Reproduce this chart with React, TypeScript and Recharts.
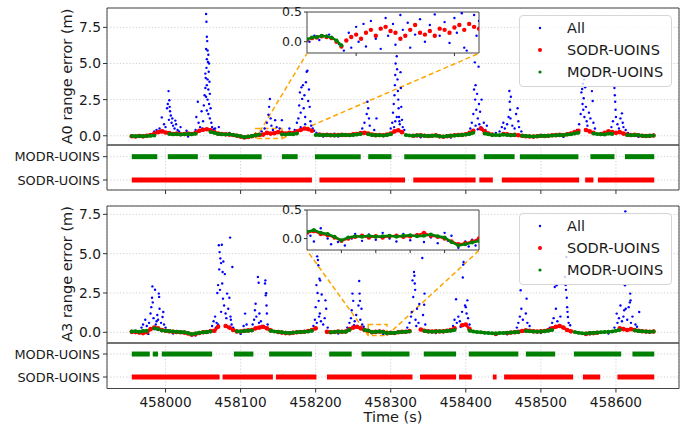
import React from 'react';
import {
  ScatterChart,
  Scatter,
  XAxis,
  YAxis,
  CartesianGrid,
  ReferenceArea,
  ReferenceLine,
  Legend,
} from 'recharts';

// ---- layout ----
const PLOT_L = 107;
const PLOT_W = 572;
const PAD = 12;
const X_MIN = 457922;
const X_MAX = 458684;
const FONT = '"DejaVu Sans", sans-serif';

const BLUE = '#0000ff';
const RED = '#ff0000';
const GREEN = '#008000';
const ORANGE = '#ffa500';
const FRAME = '#444';

// ---- data ----
const X_TICKS = [458000, 458100, 458200, 458300, 458400, 458500, 458600];
const Y_TICKS = [0, 2.5, 5, 7.5];
const INSET_Y_TICKS = [0, 0.5];
const STRIP_LABELS = ['SODR-UOINS', 'MODR-UOINS'];
const SERIES = [
  { name: 'All', color: BLUE, r: 1.2 },
  { name: 'SODR-UOINS', color: RED, r: 2 },
  { name: 'MODR-UOINS', color: GREEN, r: 1.6 },
];

// baseline samples, every 5 s from 457955
const BASE_START = 457955;
const BASE_STEP = 5;

const a0Modr = [
  -0.02, -0.03, -0.01, -0.03, -0.02, 0.0, 0.02, 0.05, 0.08, 0.1,
  0.12, 0.1, 0.11, 0.08, 0.1, 0.12, 0.1, 0.14, 0.22, 0.28,
  0.3, 0.26, 0.2, 0.12, 0.1, 0.08, 0.1, 0.06, 0.02, -0.04,
  -0.1, -0.06, -0.02, 0.04, 0.08, -0.06, 0.05, 0.08, 0.1, 0.12,
  0.1, 0.08, 0.12, 0.1, 0.15, 0.2, 0.25, 0.2, 0.12, 0.06,
  0.05, 0.03, 0.06, 0.04, 0.02, 0.04, 0.06, 0.05, 0.03, 0.05,
  0.08, 0.12, 0.15, 0.1, 0.05, 0.03, 0.04, 0.02, 0.05, 0.1,
  0.2, 0.25, 0.15, 0.05, 0.02, 0.0, 0.03, 0.02, 0.0, -0.02,
  0.0, 0.02, -0.03, -0.06, -0.02, 0.0, 0.02, 0.04, 0.05, 0.08,
  0.12, 0.2, 0.28, 0.3, 0.15, 0.1, 0.05, 0.06, 0.04, 0.08,
  0.06, 0.03, 0.05, 0.02, 0.0, -0.02, -0.04, -0.05, -0.03, 0.0,
  -0.02, 0.0, 0.02, 0.03, 0.05, 0.04, 0.08, 0.1, 0.15, 0.2,
  0.25, 0.3, 0.18, 0.15, 0.12, 0.1, 0.08, 0.15, 0.12, 0.1,
  0.12, 0.08, 0.05, 0.04, 0.06, 0.03, 0.0, -0.02, 0.0, 0.02,
];

const a0Sodr = [
  -0.03, -0.05, -0.02, -0.04, 0.0, 0.05, 0.15, 0.25, 0.3, 0.22,
  0.18, 0.12, 0.15, 0.1, 0.12, 0.15, 0.12, 0.2, 0.35, 0.42,
  0.45, 0.38, 0.25, 0.15, 0.12, 0.1, 0.08, 0.05, 0.0, -0.06,
  -0.12, -0.08, -0.03, 0.04, 0.06, 0.08, 0.2, 0.15, 0.18, 0.25,
  0.2, 0.15, 0.2, 0.18, 0.3, 0.4, 0.5, 0.45, 0.35, 0.15,
  0.08, 0.05, 0.06, 0.04, 0.03, 0.05, 0.06, 0.05, 0.05, 0.1,
  0.12, 0.18, 0.2, 0.15, 0.08, 0.04, 0.05, 0.03, 0.08, 0.15,
  0.3, 0.38, 0.25, 0.1, 0.03, 0.0, 0.02, 0.03, 0.0, -0.02,
  0.0, 0.03, -0.04, -0.07, -0.03, 0.0, 0.03, 0.05, 0.06, 0.1,
  0.2, 0.35, 0.45, 0.5, 0.3, 0.15, 0.08, 0.1, 0.08, 0.12,
  0.1, 0.05, 0.06, 0.03, 0.0, -0.03, -0.05, -0.06, -0.03, 0.0,
  -0.02, 0.0, 0.03, 0.04, 0.06, 0.05, 0.1, 0.15, 0.25, 0.35,
  0.45, 0.4, 0.3, 0.2, 0.15, 0.12, 0.2, 0.3, 0.25, 0.2,
  0.25, 0.15, 0.08, 0.05, 0.06, 0.03, 0.0, -0.02, 0.0, 0.02,
];

const a3Modr = [
  0.05, 0.06, 0.04, 0.08, 0.1, 0.15, 0.25, 0.2, 0.12, 0.1,
  0.08, 0.05, 0.03, 0.02, 0.0, -0.05, -0.12, -0.08, -0.03, 0.0,
  0.02, 0.05, 0.1, 0.2, 0.25, 0.2, 0.12, 0.1, 0.06, 0.05,
  0.08, 0.1, 0.12, 0.2, 0.25, 0.3, 0.2, 0.1, 0.05, 0.03,
  0.0, -0.03, -0.05, -0.02, 0.0, 0.02, 0.03, 0.05, 0.1, 0.15,
  0.12, 0.05, 0.03, 0.0, 0.02, 0.05, 0.03, 0.04, 0.15, 0.2,
  0.25, 0.2, 0.15, 0.12, 0.0, 0.03, 0.05, 0.02, -0.06, -0.03,
  -0.05, 0.0, 0.02, 0.03, 0.05, 0.1, 0.15, 0.12, 0.08, 0.05,
  0.04, 0.05, 0.06, 0.05, 0.08, 0.1, 0.15, 0.2, 0.25, 0.3,
  0.1, 0.05, 0.02, 0.0, -0.03, -0.05, -0.06, -0.08, -0.05, -0.04,
  -0.03, -0.02, 0.0, 0.02, 0.05, 0.08, 0.06, 0.05, 0.04, 0.05,
  0.06, 0.1, 0.15, 0.2, 0.25, 0.2, 0.1, 0.05, 0.02, -0.03,
  -0.06, -0.08, -0.05, -0.04, -0.02, 0.0, 0.02, 0.03, 0.05, 0.1,
  0.15, 0.12, 0.1, 0.15, 0.12, 0.08, 0.06, 0.05, 0.04, 0.05,
];

const a3Sodr = [
  0.03, 0.02, -0.02, -0.05, 0.0, 0.2, 0.3, 0.25, 0.15, 0.1,
  0.06, 0.04, 0.02, 0.0, -0.02, -0.08, -0.15, -0.1, -0.04, 0.0,
  0.02, 0.08, 0.1, 0.35, 0.45, 0.4, 0.3, 0.15, 0.05, 0.05,
  0.1, 0.12, 0.15, 0.25, 0.3, 0.35, 0.25, 0.12, 0.05, 0.02,
  -0.02, -0.05, -0.06, -0.03, 0.0, 0.02, 0.04, 0.08, 0.15, 0.25,
  0.2, 0.08, 0.03, 0.0, 0.02, 0.05, 0.04, 0.05, 0.2, 0.3,
  0.35, 0.25, 0.15, 0.1, 0.01, 0.03, 0.05, 0.03, -0.05, -0.03,
  -0.04, 0.0, 0.03, 0.04, 0.08, 0.15, 0.2, 0.18, 0.1, 0.06,
  0.05, 0.06, 0.05, 0.06, 0.1, 0.15, 0.25, 0.35, 0.45, 0.5,
  0.2, 0.06, 0.02, 0.0, -0.04, -0.06, -0.07, -0.1, -0.06, -0.05,
  -0.04, -0.02, 0.0, 0.03, 0.08, 0.12, 0.1, 0.06, 0.05, 0.06,
  0.08, 0.15, 0.25, 0.35, 0.4, 0.3, 0.15, 0.06, 0.02, -0.04,
  -0.08, -0.1, -0.06, -0.05, -0.03, 0.0, 0.03, 0.05, 0.1, 0.2,
  0.25, 0.2, 0.15, 0.2, 0.15, 0.1, 0.07, 0.05, 0.04, 0.05,
];

// availability windows [start, end] (s)
const a0ModrSegs = [
  [457955, 457989], [458003, 458043], [458058, 458128], [458155, 458176],
  [458199, 458260], [458270, 458301], [458318, 458413], [458424, 458465],
  [458472, 458550], [458566, 458598], [458612, 458651],
];
const a0SodrSegs = [
  [457955, 458195], [458205, 458319], [458330, 458413], [458418, 458436],
  [458448, 458551], [458559, 458570], [458576, 458651],
];
const a3ModrSegs = [
  [457955, 457979], [457983, 457990], [457995, 458062], [458091, 458117],
  [458138, 458195], [458218, 458248], [458261, 458325], [458344, 458387],
  [458404, 458470], [458480, 458519], [458544, 458607], [458622, 458651],
];
const a3SodrSegs = [
  [457955, 458072], [458076, 458143], [458147, 458201], [458215, 458329],
  [458339, 458387], [458391, 458408], [458436, 458441], [458451, 458543],
  [458556, 458579], [458602, 458651],
];

// "All" solutions away from the baseline [time, error]
const a0All = [
  [457965, -0.08], [457975, 0.05], [457985, 0.3], [457988, 0.4], [457992, 0.5], [457995, 1.27],
  [457997, 0.35], [457998, 0.8], [458000, 0.6], [458002, 1.9], [458003, 2.2], [458004, 3.09],
  [458004.5, 1.1], [458005, 2.46], [458005.5, 2.0], [458006, 1.7], [458007, 1.4], [458008, 0.9],
  [458009, 1.2], [458010, 0.7], [458012, 0.5], [458013, 1.05], [458014, 0.8], [458016, 0.4],
  [458018, 0.3], [458020, 0.6], [458028, 0.35], [458030, -0.05],
  [458040, 0.4], [458041, 1.3], [458043, 2.35], [458044, 0.9], [458045, 0.35], [458046, 0.6],
  [458048, 1.7], [458049, 0.5], [458050, 1.0], [458051, 2.1], [458052, 2.8], [458053, 3.3],
  [458053.5, 4.0], [458054, 8.42], [458054.5, 7.89], [458055, 6.85], [458055.5, 6.55], [458054, 6.0],
  [458056, 5.9], [458057, 5.6], [458055, 5.3], [458056.5, 5.1], [458058, 5.0], [458054.5, 4.7],
  [458057.5, 4.43], [458053, 4.3], [458056, 3.9], [458058.5, 3.74], [458055, 3.5], [458057, 3.2],
  [458059, 2.9], [458054, 2.7], [458056, 2.5], [458058, 2.2], [458060, 1.9], [458055, 1.75],
  [458057, 1.5], [458059, 1.2], [458061, 0.9], [458062, 0.6], [458064, 0.45], [458066, 0.5],
  [458071, 0.6], [458085, 0.2], [458105, -0.15],
  [458128, 0.3], [458132, 0.5], [458135, 0.9], [458136, 0.2], [458137, 1.45], [458138, 2.0],
  [458139, 2.54], [458140, 1.2], [458141, 0.7], [458143, 0.4], [458146, 1.08], [458148, 0.6],
  [458152, 0.5], [458155, 1.08], [458165, 0.5],
  [458172, 0.4], [458175, 0.9], [458177, 1.2], [458178, 2.1], [458179, 3.0], [458180, 1.6],
  [458180, 0.6], [458181, 3.35], [458182, 2.55], [458183, 3.5], [458184, 1.9], [458185, 2.8],
  [458186, 1.3], [458186, 0.8], [458187, 3.7], [458188, 4.43], [458189, 4.5], [458190, 2.4],
  [458191, 3.2], [458192, 2.0], [458193, 1.0], [458194, 0.7], [458196, 0.5], [458198, 0.35],
  [458201, 0.2], [458210, -0.05], [458225, 0.15], [458230, -0.05], [458240, 0.1],
  [458262, 0.5], [458265, 0.9], [458268, 1.5], [458269, 2.35], [458270, 1.9], [458271, 1.2],
  [458272, 0.7], [458278, 0.4], [458281, 1.2],
  [458300, 0.5], [458302, 0.9], [458303, 1.6], [458304, 2.2], [458304.5, 0.6], [458305, 2.8],
  [458305.5, 3.5], [458306, 4.2], [458306, 1.0], [458306.5, 5.0], [458307, 5.8], [458307.5, 6.5],
  [458308, 5.5], [458308, 1.3], [458308.5, 4.6], [458309, 3.9], [458309.5, 3.1], [458310, 2.5],
  [458310.5, 1.9], [458311, 1.3], [458311.5, 1.0], [458312, 0.8], [458313, 4.4], [458313.5, 3.3],
  [458314, 2.0], [458315, 1.1], [458316, 0.6], [458318, 0.4], [458340, -0.1], [458380, -0.12],
  [458406, 0.5], [458408, 0.9], [458410, 1.5], [458411, 3.2], [458412, 5.08], [458412.5, 2.5],
  [458413, 3.5], [458413, 0.7], [458414, 1.8], [458415, 2.9], [458416, 1.2], [458416, 0.45],
  [458417, 4.78], [458417.5, 2.2], [458418, 0.8], [458419, 1.66], [458420, 0.6], [458421, 2.5],
  [458422, 0.5], [458424, 0.9], [458426, 0.4], [458428, 0.7], [458440, 0.2],
  [458445, 0.3], [458448, 0.6], [458450, 0.9], [458452, 0.5], [458455, 0.8], [458457, 1.3],
  [458458, 3.1], [458458.5, 2.35], [458459, 1.8], [458459.5, 1.2], [458460, 2.7], [458462, 0.7],
  [458465, 0.5], [458467, 1.5], [458469, 1.9], [458470, 1.0], [458471, 0.6], [458474, 0.3],
  [458490, -0.1], [458530, -0.08],
  [458548, 0.4], [458551, 0.8], [458553, 1.5], [458554, 3.0], [458555, 3.23], [458555.5, 2.2],
  [458556, 3.6], [458556.5, 1.8], [458557, 2.6], [458557.5, 3.9], [458558, 1.3], [458558.5, 4.2],
  [458559, 3.35], [458560, 2.0], [458561, 1.0], [458562, 0.7], [458564, 1.6], [458566, 1.2],
  [458568, 3.09], [458569, 2.4], [458570, 0.9], [458572, 0.5], [458585, 0.1],
  [458590, 0.3], [458594, 0.6], [458596, 1.0], [458598, 3.3], [458598.5, 2.8], [458599, 2.35],
  [458599.5, 1.8], [458600, 1.3], [458602, 0.8], [458604, 0.5], [458606, 1.2], [458608, 1.55],
  [458609, 0.9], [458610, 0.6], [458613, 0.4], [458616, 0.2], [458630, -0.08], [458645, -0.05],
];

const a3All = [
  [457960, -0.05], [457968, 0.3], [457970, 0.5], [457973, 0.8], [457975, 0.4], [457977, -0.1],
  [457978, 0.6], [457980, 1.2], [457981, 1.6], [457982, 2.2], [457982.5, 2.92], [457983, 1.9],
  [457984, 0.9], [457985, 0.2], [457986, 2.71], [457987, 0.5], [457988, 0.7], [457989, 1.1],
  [457990, 0.8], [457991, 2.46], [457991.5, 2.25], [457992, 1.5], [457994, 0.6], [457996, 0.97],
  [457997, 1.29], [457998, 0.5], [458000, 0.3], [458010, -0.08], [458040, -0.2],
  [458062, 0.4], [458064, 0.7], [458066, 1.0], [458067, 0.3], [458068, 0.6], [458069, 2.5],
  [458070, 3.0], [458070, 0.5], [458071, 5.53], [458071.5, 4.0], [458072, 5.1], [458072.5, 2.7],
  [458073, 4.7], [458074, 4.4], [458074, 1.3], [458075, 5.57], [458075.5, 3.1], [458076, 3.83],
  [458076.5, 2.14], [458077, 4.5], [458078, 1.7], [458079, 3.7], [458080, 1.2], [458081, 0.9],
  [458082, 2.46], [458083.5, 1.5], [458085, 2.2], [458086, 6.02], [458086.5, 1.0], [458087, 0.8],
  [458088, 0.5], [458089, 4.15], [458090, 0.3], [458100, -0.1],
  [458104, 0.4], [458106, 1.19], [458108, 0.5],
  [458116, 0.5], [458118, 0.8], [458119, 1.4], [458120, 1.82], [458121, 1.0], [458123, 3.52],
  [458124, 3.15], [458124.5, 0.6], [458125, 1.2], [458127, 0.7], [458128, 0.4], [458132.5, 3.1],
  [458133, 3.3], [458133.5, 2.35], [458134, 2.48], [458134.5, 1.7], [458135, 1.2], [458136, 0.5],
  [458160, -0.1],
  [458197, 0.4], [458199, 0.8], [458200, 1.6], [458201, 3.0], [458201.5, 0.6], [458202, 4.83],
  [458202.5, 2.5], [458203, 4.6], [458203.5, 4.26], [458204, 2.0], [458204.5, 1.0], [458205, 3.41],
  [458205.5, 1.2], [458206, 3.3], [458207, 0.7], [458208, 2.4], [458210, 0.5], [458212, 0.9],
  [458213, 2.03], [458214, 1.5], [458216, 0.3], [458230, -0.08],
  [458242, 0.3], [458245, 0.6], [458247, 0.9], [458248, 1.4], [458249, 2.46], [458250, 2.0],
  [458251, 0.45], [458252, 0.7], [458254, 1.1], [458257, 1.7], [458258, 3.26], [458258.5, 2.46],
  [458259, 2.0], [458259.5, 0.8], [458261, 1.5], [458262, 0.5], [458264, 0.35], [458290, -0.1],
  [458322, 0.3], [458325, 0.6], [458327, 1.0], [458328, 1.29], [458329, 3.3], [458330, 2.24],
  [458331, 3.83], [458331.5, 3.6], [458332, 3.1], [458332.5, 2.7], [458333, 0.8], [458334, 0.4],
  [458335, 1.5], [458337, 0.6], [458338, 1.8], [458342, 4.72], [458343, 1.1], [458344.5, 1.75],
  [458345, 2.46], [458346, 0.5], [458360, -0.05],
  [458383, 0.4], [458385, 0.8], [458387, 2.1], [458388, 0.6], [458390, 1.0], [458392, 0.7],
  [458393, 0.35], [458395, 1.3], [458396, 3.48], [458396.5, 4.3], [458397, 4.47], [458399, 1.7],
  [458400, 1.6], [458401, 1.2], [458402, 2.03], [458403, 0.9], [458405, 0.5],
  [458440, -0.15], [458455, -0.12],
  [458468, 0.3], [458470, 0.6], [458472, 1.0], [458473, 2.67], [458474, 1.5], [458476, 0.8],
  [458481, 2.14], [458480, 1.2], [458482, 0.6], [458485, 0.4], [458500, -0.05],
  [458512, 0.3], [458515, 0.6], [458517, 0.9], [458518.5, 2.88], [458520, 1.5], [458521, 2.99],
  [458522, 0.7], [458525, 0.4], [458526, 1.0], [458532, 3.52], [458533, 3.0], [458533.5, 2.7],
  [458534, 4.79], [458534.5, 2.2], [458535, 1.6], [458535.5, 1.3], [458536, 0.97], [458537, 0.6],
  [458539, 0.45], [458565, -0.12], [458590, -0.08],
  [458598, 0.3], [458601, 1.19], [458602, 0.6], [458604, 0.9], [458606, 1.7], [458608, 0.7],
  [458610, 1.0], [458611, 1.4], [458612, 2.99], [458612.5, 7.69], [458613, 1.5], [458615, 0.8],
  [458618.5, 1.9], [458619, 2.46], [458619.5, 2.03], [458617, 1.6], [458620, 0.6], [458622, 1.0],
  [458626, 0.5], [458628, 0.35], [458631, 1.29], [458640, 0.0],
];

// zoomed windows, 1 s samples
const a0InsetRange = [458120, 458155];
const a0InsetTicks = [458130, 458150];
const a0InsetModr = [0.04, 0.07, 0.08, 0.1, 0.09, 0.07, 0.02, -0.06];
const a0InsetSodr = [
  0.03, 0.06, 0.07, 0.09, 0.08, 0.06, 0.0, -0.08, 0.02, 0.08,
  0.12, 0.05, 0.15, 0.2, 0.1, 0.22, 0.25, 0.18, 0.15, 0.05,
  0.1, 0.2, 0.28, 0.15, 0.12, 0.18, 0.1, 0.22, 0.2, 0.15,
  0.24, 0.28, 0.2, 0.3, 0.25, 0.22,
];
const a0InsetAll = [
  [458120.5, 0.0], [458121.5, 0.1], [458122.5, 0.03], [458124.5, 0.12], [458126.5, -0.04],
  [458127.5, -0.15], [458128.5, 0.15], [458129, -0.1], [458130, 0.25], [458130.5, 0.0],
  [458131.5, 0.3], [458132, -0.08], [458133, 0.35], [458134, 0.05], [458135, -0.12],
  [458136, 0.4], [458136.5, 0.1], [458137.5, 0.3], [458138, -0.05], [458139, 0.45],
  [458139.5, 0.2], [458140.5, 0.32], [458141, -0.1], [458142, 0.12], [458143, 0.38],
  [458144, 0.0], [458145, 0.28], [458146, 0.46], [458147, 0.1], [458148, 0.33],
  [458149, -0.02], [458150, 0.4], [458150.5, 0.15], [458151.5, 0.48], [458152, -0.1],
  [458152.5, -0.15], [458153, 0.3], [458154, 0.45], [458154.5, 0.1], [458155, 0.35],
];

const a3InsetRange = [458270, 458295];
const a3InsetTicks = [458275, 458280, 458285, 458290];
const a3InsetModr = [
  0.12, 0.15, 0.1, 0.08, 0.03, -0.03, 0.02, 0.04, 0.03, 0.05,
  0.03, 0.04, 0.05, 0.03, 0.05, 0.06, 0.04, 0.05, 0.07, 0.04,
  0.02, -0.06, -0.12, -0.1, -0.07, -0.04,
];
const a3InsetSodr = [
  0.1, 0.13, 0.08, 0.06, 0.02, -0.04, 0.0, 0.03, 0.05, 0.02,
  0.04, 0.02, 0.04, 0.05, 0.03, 0.04, 0.06, 0.1, 0.05, 0.03,
  0.0, -0.05, -0.1, -0.08, -0.05, 0.0,
];
const a3InsetAll = [
  [458270.5, 0.05], [458271, -0.05], [458272, 0.18], [458273, 0.0], [458273.5, -0.1],
  [458274.5, -0.06], [458275.5, -0.12], [458276.5, 0.0], [458277, 0.08], [458278, -0.04],
  [458279, 0.07], [458280, -0.02], [458281, 0.1], [458282, 0.0], [458283, -0.05],
  [458284, 0.08], [458285, -0.03], [458286, 0.07], [458287, -0.06], [458288, 0.02],
  [458289, -0.08], [458290, 0.1], [458290.5, -0.04], [458291, 0.05], [458292, -0.16],
  [458293, -0.05], [458293.5, -0.14], [458294, -0.02], [458294.5, -0.12], [458295, 0.0],
];

// ---- helpers ----
const sampled = (vals, start, step) => vals.map((v, i) => ({ t: start + i * step, v }));
// split a sampled series into its availability windows
const bySegment = (vals, segs) =>
  segs
    .map(([a, b]) => sampled(vals, BASE_START, BASE_STEP).filter((p) => p.t >= a && p.t <= b))
    .filter((d) => d.length > 0);
const pairs = (list) => list.map(([t, v]) => ({ t, v }));

const dot = (r, color) => (p) => <circle cx={p.cx} cy={p.cy} r={r} fill={color} />;

const gridProps = { stroke: '#c4c4c4', strokeDasharray: '1.2 2', strokeWidth: 0.8 };

const LegendBox = () => (
  <div
    style={{
      width: 153,
      height: 72,
      boxSizing: 'border-box',
      border: '1px solid #d6d6d6',
      borderRadius: 4,
      background: 'rgba(255,255,255,0.8)',
      fontFamily: FONT,
      fontSize: 14.5,
      color: '#1a1a1a',
      paddingTop: 1,
    }}
  >
    {SERIES.map((s) => (
      <div key={s.name} style={{ display: 'flex', alignItems: 'center', height: 22 }}>
        <svg width={47} height={22} style={{ flex: 'none' }}>
          <circle cx={20} cy={11} r={s.r} fill={s.color} />
        </svg>
        <span>{s.name}</span>
      </div>
    ))}
  </div>
);

function MainPanel({ top, height, yDomain, all, sodr, modr, sodrSegs, modrSegs, box, inset }) {
  const [y0, y1] = yDomain;
  const yw = 50;
  const left = PLOT_L - yw - PAD;
  const tAt = (x) => X_MIN + ((x - PLOT_L) / PLOT_W) * (X_MAX - X_MIN);
  const vAt = (y) => y1 - ((y - top) / height) * (y1 - y0);
  const iL = tAt(inset.left);
  const iR = tAt(inset.left + inset.width);
  const iB = vAt(inset.top + inset.height);
  const dash = { stroke: ORANGE, strokeWidth: 1.5, strokeDasharray: '5 3', ifOverflow: 'visible' };
  return (
    <div style={{ position: 'absolute', left, top: top - PAD }}>
      <ScatterChart
        width={yw + PLOT_W + 2 * PAD}
        height={height + 2 * PAD}
        margin={{ top: PAD, right: PAD, bottom: PAD, left: PAD }}
      >
        <CartesianGrid {...gridProps} />
        <XAxis
          type="number"
          dataKey="t"
          domain={[X_MIN, X_MAX]}
          ticks={X_TICKS}
          allowDataOverflow
          height={0}
          tick={false}
          tickLine={false}
          axisLine={false}
        />
        <YAxis
          type="number"
          dataKey="v"
          domain={yDomain}
          ticks={Y_TICKS}
          interval={0}
          allowDataOverflow
          width={yw}
          tickFormatter={(v) => v.toFixed(1)}
          tick={{ fontSize: 13.8, fill: '#1a1a1a', fontFamily: FONT }}
          tickSize={4}
          tickMargin={2}
          tickLine={{ stroke: '#333' }}
          axisLine={false}
        />
        <Scatter name="All" data={all} fill={BLUE} shape={dot(1.2, BLUE)} isAnimationActive={false} />
        {bySegment(sodr, sodrSegs).map((d, i) => (
          <Scatter
            key={`s${i}`}
            name="SODR-UOINS"
            data={d}
            fill={RED}
            line={{ stroke: RED, strokeWidth: 3 }}
            shape={dot(2.3, RED)}
            legendType="none"
            isAnimationActive={false}
          />
        ))}
        {bySegment(modr, modrSegs).map((d, i) => (
          <Scatter
            key={`m${i}`}
            name="MODR-UOINS"
            data={d}
            fill={GREEN}
            line={{ stroke: GREEN, strokeWidth: 3 }}
            shape={dot(2.0, GREEN)}
            legendType="none"
            isAnimationActive={false}
          />
        ))}
        <ReferenceArea x1={box[0]} x2={box[1]} y1={box[2]} y2={box[3]} fill="none" {...dash} />
        <ReferenceLine segment={[{ x: box[0], y: box[2] }, { x: iL, y: iB }]} {...dash} />
        <ReferenceLine segment={[{ x: box[1], y: box[2] }, { x: iR, y: iB }]} {...dash} />
        <ReferenceArea x1={X_MIN} x2={X_MAX} y1={y0} y2={y1} fill="none" stroke={FRAME} strokeWidth={1} ifOverflow="visible" />
        <Legend
          layout="horizontal"
          verticalAlign="middle"
          align="center"
          width={153}
          height={72}
          wrapperStyle={{ left: 519 - left, top: inset.legendTop - (top - PAD), width: 153, height: 72 }}
          content={() => <LegendBox />}
        />
      </ScatterChart>
    </div>
  );
}

function StripPanel({ top, height, yDomain, sodrSegs, modrSegs, showLabels }) {
  const yw = 100;
  const xh = showLabels ? 28 : 6;
  const [y0, y1] = yDomain;
  return (
    <div style={{ position: 'absolute', left: PLOT_L - yw - PAD, top: top - PAD }}>
      <ScatterChart
        width={yw + PLOT_W + 2 * PAD}
        height={height + xh + 2 * PAD}
        margin={{ top: PAD, right: PAD, bottom: PAD, left: PAD }}
      >
        <CartesianGrid {...gridProps} />
        <XAxis
          type="number"
          dataKey="t"
          domain={[X_MIN, X_MAX]}
          ticks={X_TICKS}
          interval={0}
          allowDataOverflow
          height={xh}
          tickSize={4}
          tickMargin={5}
          tickLine={{ stroke: '#333' }}
          axisLine={false}
          tickFormatter={(v) => (showLabels ? String(v) : '')}
          tick={{ fontSize: 13.7, fill: '#1a1a1a', fontFamily: FONT }}
        />
        <YAxis
          type="number"
          dataKey="v"
          domain={yDomain}
          ticks={[0, 1]}
          interval={0}
          allowDataOverflow
          width={yw}
          tickFormatter={(v) => STRIP_LABELS[v]}
          tick={{ fontSize: 12.9, fill: '#1a1a1a', fontFamily: FONT }}
          tickSize={4}
          tickMargin={3}
          tickLine={{ stroke: '#333' }}
          axisLine={false}
        />
        {sodrSegs.map(([a, b], i) => (
          <ReferenceLine key={`s${i}`} segment={[{ x: a, y: 0 }, { x: b, y: 0 }]} stroke={RED} strokeWidth={5} />
        ))}
        {modrSegs.map(([a, b], i) => (
          <ReferenceLine key={`m${i}`} segment={[{ x: a, y: 1 }, { x: b, y: 1 }]} stroke={GREEN} strokeWidth={5} />
        ))}
        <ReferenceArea x1={X_MIN} x2={X_MAX} y1={y0} y2={y1} fill="none" stroke={FRAME} strokeWidth={1} ifOverflow="visible" />
      </ScatterChart>
    </div>
  );
}

function InsetPanel({ box, xDomain, xTicks, yDomain, all, sodr, modr, redLine }) {
  const yw = 30;
  const xh = 5;
  const [y0, y1] = yDomain;
  return (
    <div style={{ position: 'absolute', left: box.left - yw - PAD, top: box.top - PAD }}>
      <div
        style={{
          position: 'absolute',
          left: PAD + yw,
          top: PAD,
          width: box.width,
          height: box.height,
          background: '#fff',
        }}
      />
      <ScatterChart
        width={yw + box.width + 2 * PAD}
        height={box.height + xh + 2 * PAD}
        margin={{ top: PAD, right: PAD, bottom: PAD, left: PAD }}
      >
        <XAxis
          type="number"
          dataKey="t"
          domain={xDomain}
          ticks={xTicks}
          interval={0}
          allowDataOverflow
          height={xh}
          tickSize={3}
          tickLine={{ stroke: '#333' }}
          axisLine={false}
          tickFormatter={() => ''}
        />
        <YAxis
          type="number"
          dataKey="v"
          domain={yDomain}
          ticks={INSET_Y_TICKS}
          interval={0}
          allowDataOverflow
          width={yw}
          tickFormatter={(v) => v.toFixed(1)}
          tick={{ fontSize: 12.5, fill: '#1a1a1a', fontFamily: FONT }}
          tickSize={3}
          tickMargin={2}
          tickLine={{ stroke: '#333' }}
          axisLine={false}
        />
        <Scatter data={all} fill={BLUE} shape={dot(1.2, BLUE)} isAnimationActive={false} />
        <Scatter
          data={sodr}
          fill={RED}
          line={redLine ? { stroke: RED, strokeWidth: 2 } : false}
          shape={dot(2.2, RED)}
          isAnimationActive={false}
        />
        <Scatter data={modr} fill={GREEN} line={{ stroke: GREEN, strokeWidth: 2.5 }} shape={dot(2.0, GREEN)} isAnimationActive={false} />
        <ReferenceArea x1={xDomain[0]} x2={xDomain[1]} y1={y0} y2={y1} fill="none" stroke={FRAME} strokeWidth={1} ifOverflow="visible" />
      </ScatterChart>
    </div>
  );
}

const INSET_A0 = { left: 307, top: 12.3, width: 172, height: 41, legendTop: 15 };
const INSET_A3 = { left: 307, top: 210, width: 172, height: 40, legendTop: 213 };

export default function App() {
  return (
    <div
      style={{
        position: 'absolute',
        left: 0,
        top: 0,
        width: 686,
        height: 430,
        background: '#fff',
        fontFamily: FONT,
        overflow: 'hidden',
      }}
    >
      <MainPanel
        top={8}
        height={137}
        yDomain={[-0.64, 8.84]}
        all={pairs(a0All)}
        sodr={a0Sodr}
        modr={a0Modr}
        sodrSegs={a0SodrSegs}
        modrSegs={a0ModrSegs}
        box={[a0InsetRange[0], a0InsetRange[1], -0.19, 0.5]}
        inset={INSET_A0}
      />
      <StripPanel top={145} height={45} yDomain={[-0.43, 1.5]} sodrSegs={a0SodrSegs} modrSegs={a0ModrSegs} showLabels={false} />
      <MainPanel
        top={205.5}
        height={137}
        yDomain={[-0.68, 8.03]}
        all={pairs(a3All)}
        sodr={a3Sodr}
        modr={a3Modr}
        sodrSegs={a3SodrSegs}
        modrSegs={a3ModrSegs}
        box={[a3InsetRange[0], a3InsetRange[1], -0.2, 0.5]}
        inset={INSET_A3}
      />
      <StripPanel top={342.5} height={45.5} yDomain={[-0.5, 1.48]} sodrSegs={a3SodrSegs} modrSegs={a3ModrSegs} showLabels />
      <InsetPanel
        box={INSET_A0}
        xDomain={a0InsetRange}
        xTicks={a0InsetTicks}
        yDomain={[-0.19, 0.5]}
        all={pairs(a0InsetAll)}
        sodr={sampled(a0InsetSodr, a0InsetRange[0], 1)}
        modr={sampled(a0InsetModr, a0InsetRange[0], 1)}
        redLine={false}
      />
      <InsetPanel
        box={INSET_A3}
        xDomain={a3InsetRange}
        xTicks={a3InsetTicks}
        yDomain={[-0.2, 0.5]}
        all={pairs(a3InsetAll)}
        sodr={sampled(a3InsetSodr, a3InsetRange[0], 1)}
        modr={sampled(a3InsetModr, a3InsetRange[0], 1)}
        redLine
      />
      <svg width={686} height={430} style={{ position: 'absolute', left: 0, top: 0, pointerEvents: 'none' }}>
        <text
          transform="translate(66.7,76.5) rotate(-90)"
          textAnchor="middle"
          dominantBaseline="central"
          fontSize={14.5}
          fill="#1a1a1a"
          fontFamily={FONT}
        >
          A0 range error (m)
        </text>
        <text
          transform="translate(66.7,274) rotate(-90)"
          textAnchor="middle"
          dominantBaseline="central"
          fontSize={14.5}
          fill="#1a1a1a"
          fontFamily={FONT}
        >
          A3 range error (m)
        </text>
        <text x={393} y={422} textAnchor="middle" fontSize={14.5} fill="#1a1a1a" fontFamily={FONT}>
          Time (s)
        </text>
      </svg>
    </div>
  );
}
